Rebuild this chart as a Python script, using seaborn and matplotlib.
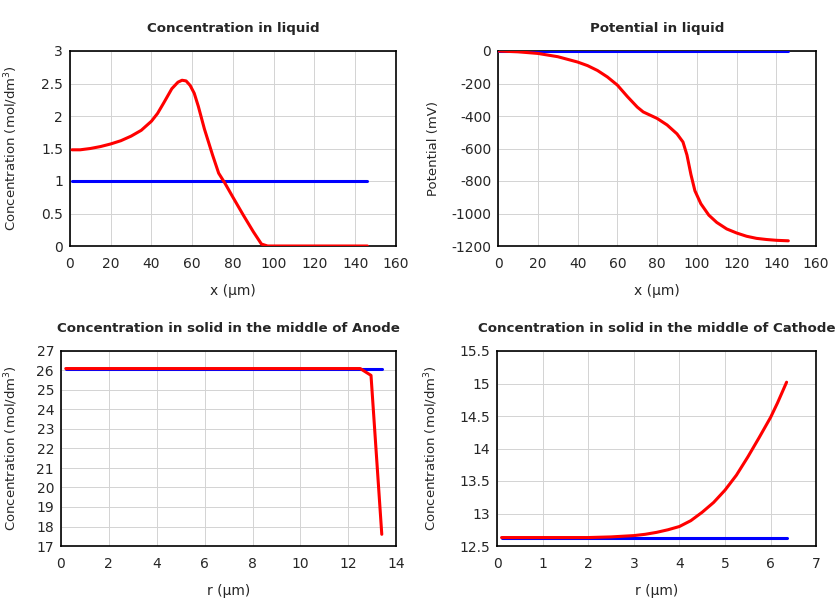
import numpy as np
import pandas as pd
import matplotlib
matplotlib.use('Agg')
import matplotlib.pyplot as plt
import seaborn as sns

# Concentration in liquid
liq_x = [1, 5, 10, 15, 20, 25, 30, 35, 40, 43, 46, 50, 53, 55, 57, 59, 61, 63, 66, 70, 73, 76, 80, 85, 90, 94, 97, 100, 146]
liq_c = [1.48, 1.48, 1.50, 1.53, 1.57, 1.62, 1.69, 1.78, 1.92, 2.04, 2.20, 2.42, 2.52, 2.55, 2.54, 2.47, 2.35, 2.15, 1.80, 1.40, 1.12, 0.97, 0.75, 0.48, 0.22, 0.03, 0.0, 0.0, 0.0]
liq_c0_x = [1, 146]
liq_c0 = [1.0, 1.0]

# Potential in liquid
pot_x = [0, 10, 20, 30, 40, 45, 50, 55, 60, 65, 70, 73, 80, 85, 90, 93, 95, 97, 99, 102, 106, 110, 115, 120, 125, 130, 135, 140, 146]
pot_v = [0, -5, -15, -35, -68, -90, -120, -160, -210, -280, -345, -375, -415, -455, -510, -560, -640, -760, -860, -940, -1010, -1055, -1095, -1120, -1140, -1153, -1160, -1165, -1168]
pot0_x = [0, 146]
pot0_v = [0, 0]

# Solid, anode
an_r = [0.2, 4, 8, 12.5, 12.95, 13.4]
an_c = [26.1, 26.1, 26.1, 26.1, 25.75, 17.6]
an0_r = [0.2, 13.4]
an0_c = [26.1, 26.1]

# Solid, cathode
ca_r = [0.1, 1, 2, 2.5, 3, 3.25, 3.5, 3.75, 4, 4.25, 4.5, 4.75, 5, 5.25, 5.5, 5.75, 6, 6.15, 6.35]
ca_c = [12.63, 12.63, 12.63, 12.64, 12.66, 12.68, 12.71, 12.75, 12.80, 12.89, 13.02, 13.17, 13.36, 13.59, 13.87, 14.17, 14.48, 14.70, 15.02]
ca0_r = [0.1, 6.35]
ca0_c = [12.63, 12.63]

sns.set_style('white')
plt.rcParams['font.family'] = ['DejaVu Sans']

fig = plt.figure(figsize=(8.4, 6), dpi=100)

conc_label = r'Concentration (mol/dm$^3$)'
# rect, title, xlabel, ylabel, ylabel x (px), blue, red, xlim, ylim, xticks, yticks
panels = [
    ([0.0833, 0.59, 0.388, 0.325], 'Concentration in liquid', 'x (µm)', conc_label, 20,
     (liq_c0_x, liq_c0), (liq_x, liq_c), (0, 160), (0, 3), np.arange(0, 161, 20), np.arange(0, 3.01, 0.5)),
    ([0.593, 0.59, 0.3786, 0.325], 'Potential in liquid', 'x (µm)', 'Potential (mV)', 440,
     (pot0_x, pot0_v), (pot_x, pot_v), (0, 160), (-1200, 0), np.arange(0, 161, 20), np.arange(-1200, 1, 200)),
    ([0.0726, 0.09, 0.399, 0.325], 'Concentration in solid in the middle of Anode', 'r (µm)', conc_label, 20,
     (an0_r, an0_c), (an_r, an_c), (0, 14), (17, 27), np.arange(0, 15, 2), np.arange(17, 28, 1)),
    ([0.5917, 0.09, 0.38, 0.325], 'Concentration in solid in the middle of Cathode', 'r (µm)', conc_label, 440,
     (ca0_r, ca0_c), (ca_r, ca_c), (0, 7), (12.5, 15.5), np.arange(0, 8, 1), np.arange(12.5, 15.51, 0.5)),
]

def fmt(v):
    return ('%g' % v)

for rect, title, xl, yl, ylx, blue, red, xlim, ylim, xt, yt in panels:
    ax = fig.add_axes(rect)
    sns.lineplot(x=blue[0], y=blue[1], ax=ax, color='#0000ff', linewidth=2.2, zorder=3)
    sns.lineplot(x=red[0], y=red[1], ax=ax, color='#ff0000', linewidth=2.2, zorder=4)
    ax.set_xlim(*xlim)
    ax.set_ylim(*ylim)
    ax.set_xticks(xt)
    ax.set_yticks(yt)
    ax.set_xticklabels([fmt(v) for v in xt])
    ax.set_yticklabels([fmt(v) for v in yt])
    ax.grid(True, color='#d3d3d3', linewidth=0.7)
    ax.tick_params(axis='x', length=0, labelsize=10, pad=8)
    ax.tick_params(axis='y', length=0, labelsize=10, pad=5)
    for s in ax.spines.values():
        s.set_color('black')
        s.set_linewidth(1.2)
    ax.set_title(title, fontsize=9.6, fontweight='bold', pad=14)
    ax.set_xlabel(xl, fontsize=10, labelpad=9)
    ax.set_ylabel(yl, fontsize=9.5)
    ax.yaxis.set_label_coords(ylx / 840, rect[1] + rect[3] / 2, transform=fig.transFigure)

fig.savefig('out.png', dpi=100)
